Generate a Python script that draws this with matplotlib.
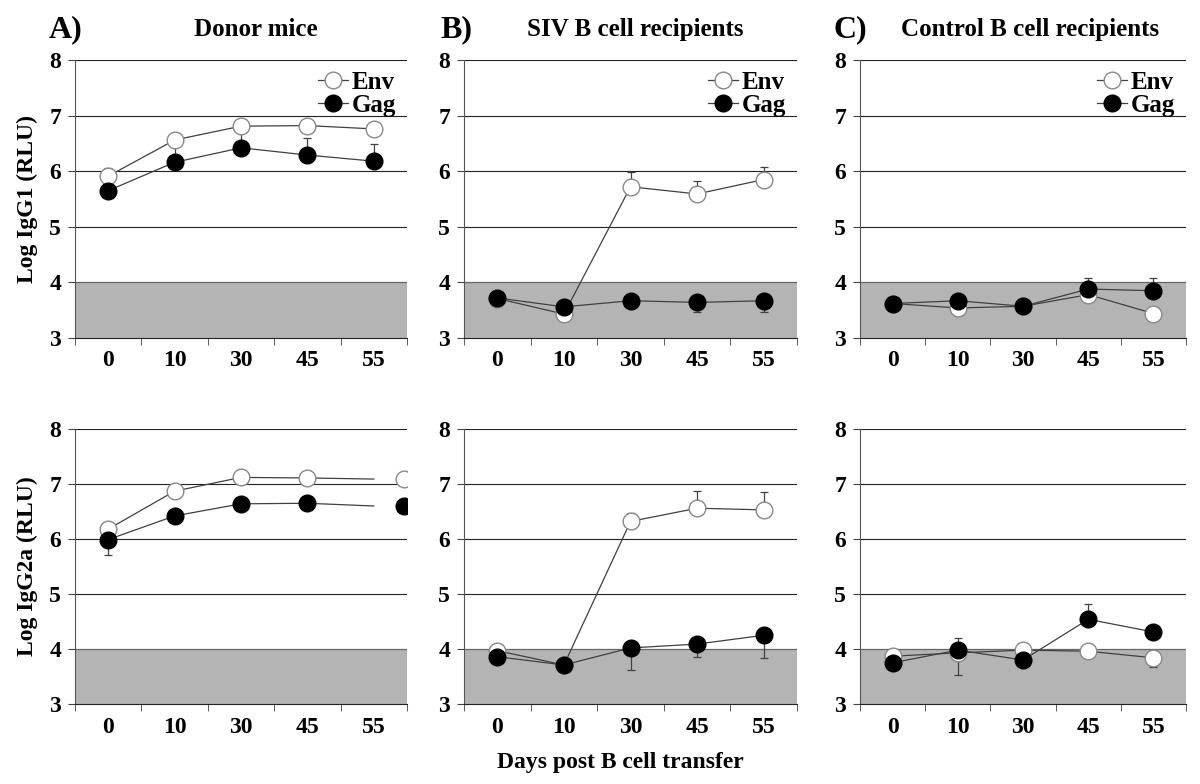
import numpy as np
import matplotlib
matplotlib.use("Agg")
import matplotlib.pyplot as plt
from matplotlib.lines import Line2D

plt.rcParams["font.family"] = ["Liberation Serif", "DejaVu Serif"]
plt.rcParams["font.weight"] = "bold"

days = ["0", "10", "30", "45", "55"]

# IgG1 (top row)
a1_env = [5.91, 6.56, 6.81, 6.82, 6.76]
a1_gag = [5.65, 6.16, 6.42, 6.29, 6.18]
a1_env_err = ([0, 0, 0, 0, 0], [0.15, 0, 0, 0, 0])
a1_gag_err = ([0, 0, 0, 0, 0], [0.1, 0.35, 0.3, 0.30, 0.30])

b1_env = [3.71, 3.43, 5.72, 5.59, 5.85]
b1_gag = [3.72, 3.56, 3.67, 3.64, 3.67]
b1_env_err = ([0, 0, 0, 0, 0], [0, 0, 0.26, 0.24, 0.23])
b1_gag_err = ([0, 0, 0, 0.17, 0.21], [0, 0, 0, 0, 0])

c1_env = [3.62, 3.54, 3.57, 3.78, 3.44]
c1_gag = [3.62, 3.67, 3.57, 3.88, 3.85]
c1_env_err = ([0, 0, 0, 0, 0], [0, 0, 0, 0, 0])
c1_gag_err = ([0, 0, 0, 0, 0], [0, 0.13, 0, 0.20, 0.22])

# IgG2a (bottom row)
a2_env = [6.18, 6.87, 7.12, 7.11, 7.09]
a2_gag = [5.99, 6.42, 6.64, 6.65, 6.60]
a2_env_err = ([0, 0, 0, 0, 0], [0.1, 0, 0, 0, 0])
a2_gag_err = ([0.28, 0, 0, 0.11, 0.13], [0, 0, 0, 0, 0])

b2_env = [3.97, 3.71, 6.32, 6.56, 6.53]
b2_gag = [3.86, 3.71, 4.02, 4.09, 4.25]
b2_env_err = ([0, 0, 0, 0, 0], [0, 0, 0.16, 0.32, 0.33])
b2_gag_err = ([0, 0, 0.40, 0.24, 0.42], [0, 0, 0, 0, 0])

c2_env = [3.87, 3.93, 3.98, 3.96, 3.84]
c2_gag = [3.75, 3.98, 3.80, 4.54, 4.31]
c2_env_err = ([0, 0.40, 0, 0, 0.16], [0, 0, 0, 0, 0])
c2_gag_err = ([0, 0, 0, 0, 0], [0, 0.22, 0, 0.28, 0])

panels = [
    [(a1_env, a1_gag, a1_env_err, a1_gag_err), (b1_env, b1_gag, b1_env_err, b1_gag_err), (c1_env, c1_gag, c1_env_err, c1_gag_err)],
    [(a2_env, a2_gag, a2_env_err, a2_gag_err), (b2_env, b2_gag, b2_env_err, b2_gag_err), (c2_env, c2_gag, c2_env_err, c2_gag_err)],
]
titles = ["Donor mice", "SIV B cell recipients", "Control B cell recipients"]
letters = ["A)", "B)", "C)"]
ylabels = ["Log IgG1 (RLU)", "Log IgG2a (RLU)"]

# in the donor IgG2a panel the day-55 markers sit off their line end
last_shift = 0.45

fig = plt.figure(figsize=(12, 7.84), dpi=100)

lefts = [0.0625, 0.3867, 0.7167]
widths = [0.2767, 0.2775, 0.2717]
bottoms = [0.5689, 0.102]
heights = [0.3546, 0.3508]
title_x = [0.545, 0.515, 0.52]
letter_x = [-0.08, -0.07, -0.08]

line_col = "#404040"
x = np.arange(len(days))

for r in range(2):
    for c in range(3):
        ax = fig.add_axes([lefts[c], bottoms[r], widths[c], heights[r]])
        env, gag, env_err, gag_err = panels[r][c]
        ax.axhspan(3, 4, color="#b4b4b4", zorder=0, lw=0)
        for yv in [5, 6, 7, 8]:
            ax.axhline(yv, color="#222222", lw=0.8, zorder=1)
        ax.axhline(4, color="#666666", lw=0.9, zorder=1)

        xm = x.astype(float).copy()
        if r == 1 and c == 0:
            xm[-1] += last_shift

        for vals, err in [(env, env_err), (gag, gag_err)]:
            ax.plot(x, vals, color=line_col, lw=0.9, zorder=2)
            ax.errorbar(xm, vals, yerr=[err[0], err[1]], fmt="none", ecolor=line_col,
                        elinewidth=0.9, capsize=3, capthick=0.9, zorder=2)
        ax.plot(xm, env, ls="none", marker="o", ms=12, mfc="white", mec="#888888", mew=1.0, zorder=3)
        ax.plot(xm, gag, ls="none", marker="o", ms=12, mfc="black", mec="black", zorder=4)

        ax.set_xlim(-0.5, 4.5)
        ax.set_ylim(3, 8)
        ax.set_yticks([3, 4, 5, 6, 7, 8])
        ax.set_xticks(x)
        ax.set_xticklabels(days, fontsize=17, fontweight="bold")
        ax.set_xticks(np.arange(-0.5, 5, 1), minor=True)
        ax.tick_params(axis="x", which="major", length=0, pad=9)
        ax.tick_params(axis="x", which="minor", length=5, color="#444444", direction="out")
        ax.tick_params(axis="y", length=5, labelsize=17, color="#444444", pad=5)
        for lab in ax.get_yticklabels():
            lab.set_fontweight("bold")
        for s in ["top", "right"]:
            ax.spines[s].set_visible(False)
        ax.spines["left"].set_color("#555555")
        ax.spines["bottom"].set_color("#222222")

        if r == 0:
            h = [Line2D([], [], color=line_col, lw=0.9, marker="o", ms=12, mfc="white", mec="#888888"),
                 Line2D([], [], color=line_col, lw=0.9, marker="o", ms=12, mfc="black", mec="black")]
            ax.legend(h, ["Env", "Gag"], loc="upper right", frameon=False, handlelength=1.2,
                      handletextpad=0.15, labelspacing=0.0, borderaxespad=0.05,
                      prop={"family": "Liberation Serif", "weight": "bold", "size": 18})
            ax.text(title_x[c], 1.11, titles[c], transform=ax.transAxes, fontsize=18,
                    fontweight="bold", ha="center", va="center")
            ax.text(letter_x[c], 1.11, letters[c], transform=ax.transAxes,
                    fontsize=23, fontweight="bold", ha="left", va="center")
        if c == 0:
            ax.set_ylabel(ylabels[r], fontsize=17, fontweight="bold", labelpad=8)

fig.text(0.5167, 0.028, "Days post B cell transfer", ha="center", va="center",
         fontsize=17, fontweight="bold")

fig.savefig("out.png", dpi=100)
